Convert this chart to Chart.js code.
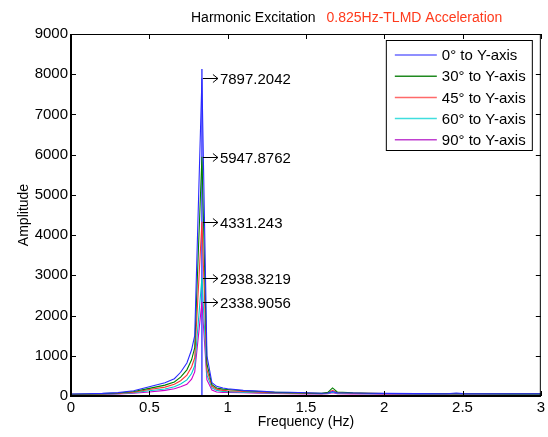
<!DOCTYPE html>
<html>
<head>
<meta charset="utf-8">
<script src="https://cdn.jsdelivr.net/npm/chart.js@4/dist/chart.umd.min.js"></script>
<style>
  html, body { margin: 0; padding: 0; background: #ffffff; }
  #wrap { width: 548px; height: 437px; position: relative; }
</style>
</head>
<body>
<div id="wrap"><canvas id="c" width="548" height="437"></canvas></div>
<script>
// ---- data ----
const freq      = [0, 0.1, 0.2, 0.3, 0.4, 0.5, 0.6, 0.66, 0.70, 0.74, 0.77, 0.79, 0.836, 0.868, 0.90, 0.93, 0.97, 1.0, 1.1, 1.2, 1.3, 1.4, 1.5, 1.6, 1.64, 1.67, 1.70, 1.8, 1.9, 2.0, 2.2, 2.4, 2.46, 2.5, 2.6, 2.8, 3.0];
const deg0      = [50, 55, 65, 85, 130, 230, 330, 430, 590, 820, 1150, 1500, 7897.2042, 1000, 330, 240, 200, 180, 140, 120, 100, 95, 80, 70, 75, 110, 80, 75, 70, 65, 60, 55, 75, 60, 55, 55, 55];
const deg30     = [45, 50, 60, 75, 110, 190, 270, 350, 470, 650, 900, 1200, 5947.8762, 800, 280, 200, 170, 160, 130, 110, 95, 85, 75, 65, 90, 200, 100, 80, 70, 62, 58, 55, 55, 55, 55, 52, 52];
const deg45     = [40, 45, 52, 65, 95, 160, 220, 290, 380, 520, 720, 950, 4331.243, 650, 240, 170, 140, 130, 110, 95, 85, 75, 68, 60, 75, 140, 85, 70, 65, 60, 60, 58, 58, 58, 58, 58, 58];
const deg60     = [35, 40, 47, 58, 85, 130, 175, 230, 300, 400, 560, 750, 2938.3219, 520, 200, 140, 115, 110, 95, 85, 75, 68, 62, 55, 65, 100, 70, 62, 58, 55, 52, 50, 50, 50, 50, 50, 50];
const deg90     = [30, 35, 40, 50, 70, 100, 140, 180, 230, 290, 420, 600, 2338.9056, 400, 150, 100, 90, 90, 80, 70, 62, 58, 52, 48, 55, 80, 58, 52, 48, 45, 45, 42, 42, 42, 42, 42, 42];
const seriesNames  = ['0° to Y-axis', '30° to Y-axis', '45° to Y-axis', '60° to Y-axis', '90° to Y-axis'];
const seriesColors = ['#2a2aff', '#008000', '#ff3535', '#00cccc', '#cc00cc'];
const legendColors = ['#6a6aff', '#208a20', '#ff6a6a', '#40dede', '#c040d0'];
const peakFreq   = 0.836;
const peakLabels = ['7897.2042', '5947.8762', '4331.243', '2938.3219', '2338.9056'];
const peakValues = [7897.2042, 5947.8762, 4331.243, 2938.3219, 2338.9056];
const markerTop  = 8130;
const xTicks = [0, 0.5, 1, 1.5, 2, 2.5, 3];
const yTicks = [0, 1000, 2000, 3000, 4000, 5000, 6000, 7000, 8000, 9000];
const titleBlack = 'Harmonic Excitation';
const titleRed   = '0.825Hz-TLMD Acceleration';

const FONT = '"Liberation Sans", Arial, Helvetica, sans-serif';
const allSeries = [deg0, deg30, deg45, deg60, deg90];

const datasets = allSeries.map((s, i) => ({
  label: seriesNames[i],
  data: freq.map((f, k) => ({ x: f, y: s[k] })),
  borderColor: seriesColors[i],
  backgroundColor: seriesColors[i],
  borderWidth: 1.1,
  pointRadius: 0,
  tension: 0,
  fill: false
}));
datasets.push({
  label: '',
  data: [{ x: peakFreq, y: 0 }, { x: peakFreq, y: markerTop }],
  borderColor: '#1a1aff',
  borderWidth: 1.2,
  pointRadius: 0,
  fill: false
});

const matlabDecor = {
  id: 'matlabDecor',
  afterDraw(chart) {
    const ctx = chart.ctx;
    const a = chart.chartArea;
    const xs = chart.scales.x, ys = chart.scales.y;
    ctx.save();
    // box
    ctx.strokeStyle = '#000';
    ctx.lineWidth = 1;
    ctx.strokeRect(a.left + 0.5, a.top + 0.5, a.right - a.left - 1, a.bottom - a.top - 1);
    ctx.lineWidth = 2;
    ctx.beginPath();
    ctx.moveTo(a.left, a.top);
    ctx.lineTo(a.left, a.bottom);
    ctx.lineTo(a.right, a.bottom);
    ctx.stroke();
    // inward ticks
    ctx.lineWidth = 1;
    ctx.beginPath();
    xTicks.forEach(v => {
      const px = Math.round(xs.getPixelForValue(v)) + 0.5;
      ctx.moveTo(px, a.bottom); ctx.lineTo(px, a.bottom - 5);
      ctx.moveTo(px, a.top); ctx.lineTo(px, a.top + 5);
    });
    yTicks.forEach(v => {
      const py = Math.round(ys.getPixelForValue(v)) + 0.5;
      ctx.moveTo(a.left, py); ctx.lineTo(a.left + 5, py);
      ctx.moveTo(a.right, py); ctx.lineTo(a.right - 5, py);
    });
    ctx.stroke();

    // peak annotations
    const x0 = xs.getPixelForValue(peakFreq) + 1;
    ctx.font = '15px ' + FONT;
    ctx.fillStyle = '#000';
    ctx.textAlign = 'left';
    ctx.textBaseline = 'middle';
    peakValues.forEach((v, i) => {
      const py = Math.round(ys.getPixelForValue(v)) + 0.5;
      ctx.beginPath();
      ctx.moveTo(x0, py); ctx.lineTo(x0 + 15, py);
      ctx.moveTo(x0 + 10, py - 4); ctx.lineTo(x0 + 15, py); ctx.lineTo(x0 + 10, py + 4);
      ctx.stroke();
      ctx.fillText(peakLabels[i], x0 + 17, py + 1);
    });

    // legend box
    const lx = a.right - 155, ly = a.top + 6, lw = 146, lh = 110;
    ctx.fillStyle = '#fff';
    ctx.fillRect(lx, ly, lw, lh);
    ctx.strokeStyle = '#000';
    ctx.lineWidth = 1;
    ctx.strokeRect(lx + 0.5, ly + 0.5, lw, lh);
    seriesNames.forEach((name, i) => {
      const ry = ly + 15 + i * 21.2;
      ctx.strokeStyle = legendColors[i];
      ctx.lineWidth = 1.5;
      ctx.beginPath();
      ctx.moveTo(lx + 9, ry); ctx.lineTo(lx + 51, ry);
      ctx.stroke();
      ctx.fillStyle = '#000';
      ctx.font = '15px ' + FONT;
      ctx.textBaseline = 'middle';
      ctx.fillText(name, lx + 56, ry + 1);
    });

    // two-coloured title
    ctx.font = '14px ' + FONT;
    ctx.textBaseline = 'alphabetic';
    ctx.fillStyle = '#000';
    ctx.fillText(titleBlack, 191, 22);
    const w = ctx.measureText(titleBlack).width;
    ctx.fillStyle = '#ff3a1c';
    ctx.fillText(titleRed, 191 + w + 11, 22);
    ctx.restore();
  }
};

new Chart(document.getElementById('c'), {
  type: 'line',
  data: { datasets },
  options: {
    responsive: false,
    animation: false,
    devicePixelRatio: 1,
    layout: { padding: { top: 34, right: 7, left: 0, bottom: 0 } },
    plugins: { legend: { display: false }, tooltip: { enabled: false }, title: { display: false } },
    scales: {
      x: {
        type: 'linear', min: 0, max: 3,
        afterFit(s) { s.height = 41; },
        afterBuildTicks(s) { s.ticks = xTicks.map(v => ({ value: v })); },
        grid: { display: false, drawTicks: false },
        border: { display: false },
        ticks: { color: '#000', font: { size: 15, family: FONT }, padding: 3, maxRotation: 0,
                 callback: v => String(v) },
        title: { display: true, text: 'Frequency (Hz)', color: '#000',
                 font: { size: 14, family: FONT }, padding: { top: 0, bottom: 6 } }
      },
      y: {
        type: 'linear', min: 0, max: 9000,
        afterFit(s) { s.width = 71; },
        afterBuildTicks(s) { s.ticks = yTicks.map(v => ({ value: v })); },
        grid: { display: false, drawTicks: false },
        border: { display: false },
        ticks: { color: '#000', font: { size: 15, family: FONT }, padding: 3,
                 callback: v => String(v) },
        title: { display: true, text: 'Amplitude', color: '#000',
                 font: { size: 14, family: FONT }, padding: { top: 16, bottom: 0 } }
      }
    }
  },
  plugins: [matlabDecor]
});
</script>
</body>
</html>
